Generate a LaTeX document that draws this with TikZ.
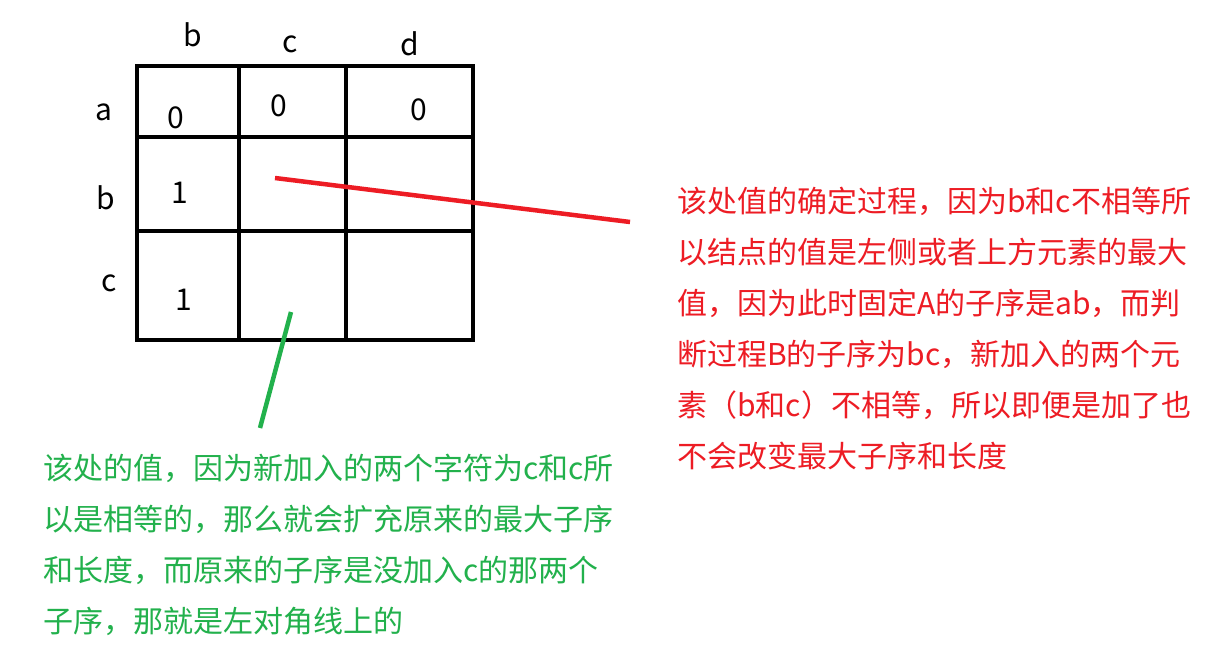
\documentclass[tikz,border=0pt]{standalone}
\usepackage{fontspec}
\setmainfont{Noto Sans CJK SC}
\definecolor{pred}{RGB}{237,28,36}
\definecolor{pgreen}{RGB}{34,177,76}
\tikzset{
  gridline/.style={line width=4pt, black},
  lbl/.style={font=\fontsize{30}{36}\selectfont, inner sep=0pt},
  note/.style={font=\fontsize{30}{51}\selectfont, inner sep=0pt, align=left, anchor=north west},
  pointer/.style={line width=4.5pt}
}
\begin{document}
\begin{tikzpicture}[x=1pt,y=-1pt]
\useasboundingbox[fill=white] (0,0) rectangle (1214,658);
% grid
\draw[gridline] (137,66) rectangle (473,340);
\draw[gridline] (239,66) -- (239,340);
\draw[gridline] (346,66) -- (346,340);
\draw[gridline] (137,137) -- (473,137);
\draw[gridline] (137,231) -- (473,231);
% column labels
\node[lbl] (cb) at (193,35) {b};
\node[lbl] (cc) at (290,44) {c};
\node[lbl] (cd) at (410,44) {d};
% row labels
\node[lbl] (ra) at (104,112) {a};
\node[lbl] (rb) at (106,198) {b};
\node[lbl] (rc) at (109,283) {c};
% values
\node[lbl] (v11) at (176,118) {0};
\node[lbl] (v12) at (279,106) {0};
\node[lbl] (v13) at (419,110) {0};
\node[lbl] (v21) at (180,193) {1};
\node[lbl] (v31) at (184,300) {1};
% notes
\node[note, text=pred] (rednote) at (677,187) {该处值的确定过程，因为b和c不相等所\\以结点的值是左侧或者上方元素的最大\\值，因为此时固定A的子序是ab，而判\\断过程B的子序为bc，新加入的两个元\\素（b和c）不相等，所以即便是加了也\\不会改变最大子序和长度};
\node[note, text=pgreen] (greennote) at (43,454) {该处的值，因为新加入的两个字符为c和c所\\以是相等的，那么就会扩充原来的最大子序\\和长度，而原来的子序是没加入c的那两个\\子序，那就是左对角线上的};
% pointers
\coordinate (redstart) at (275,178);
\coordinate (redend) at (630,222);
\coordinate (greenstart) at (291,312);
\coordinate (greenend) at (260,428);
\draw[pointer, pred] (redstart) -- (redend);
\draw[pointer, pgreen] (greenstart) -- (greenend);
\end{tikzpicture}
\end{document}
